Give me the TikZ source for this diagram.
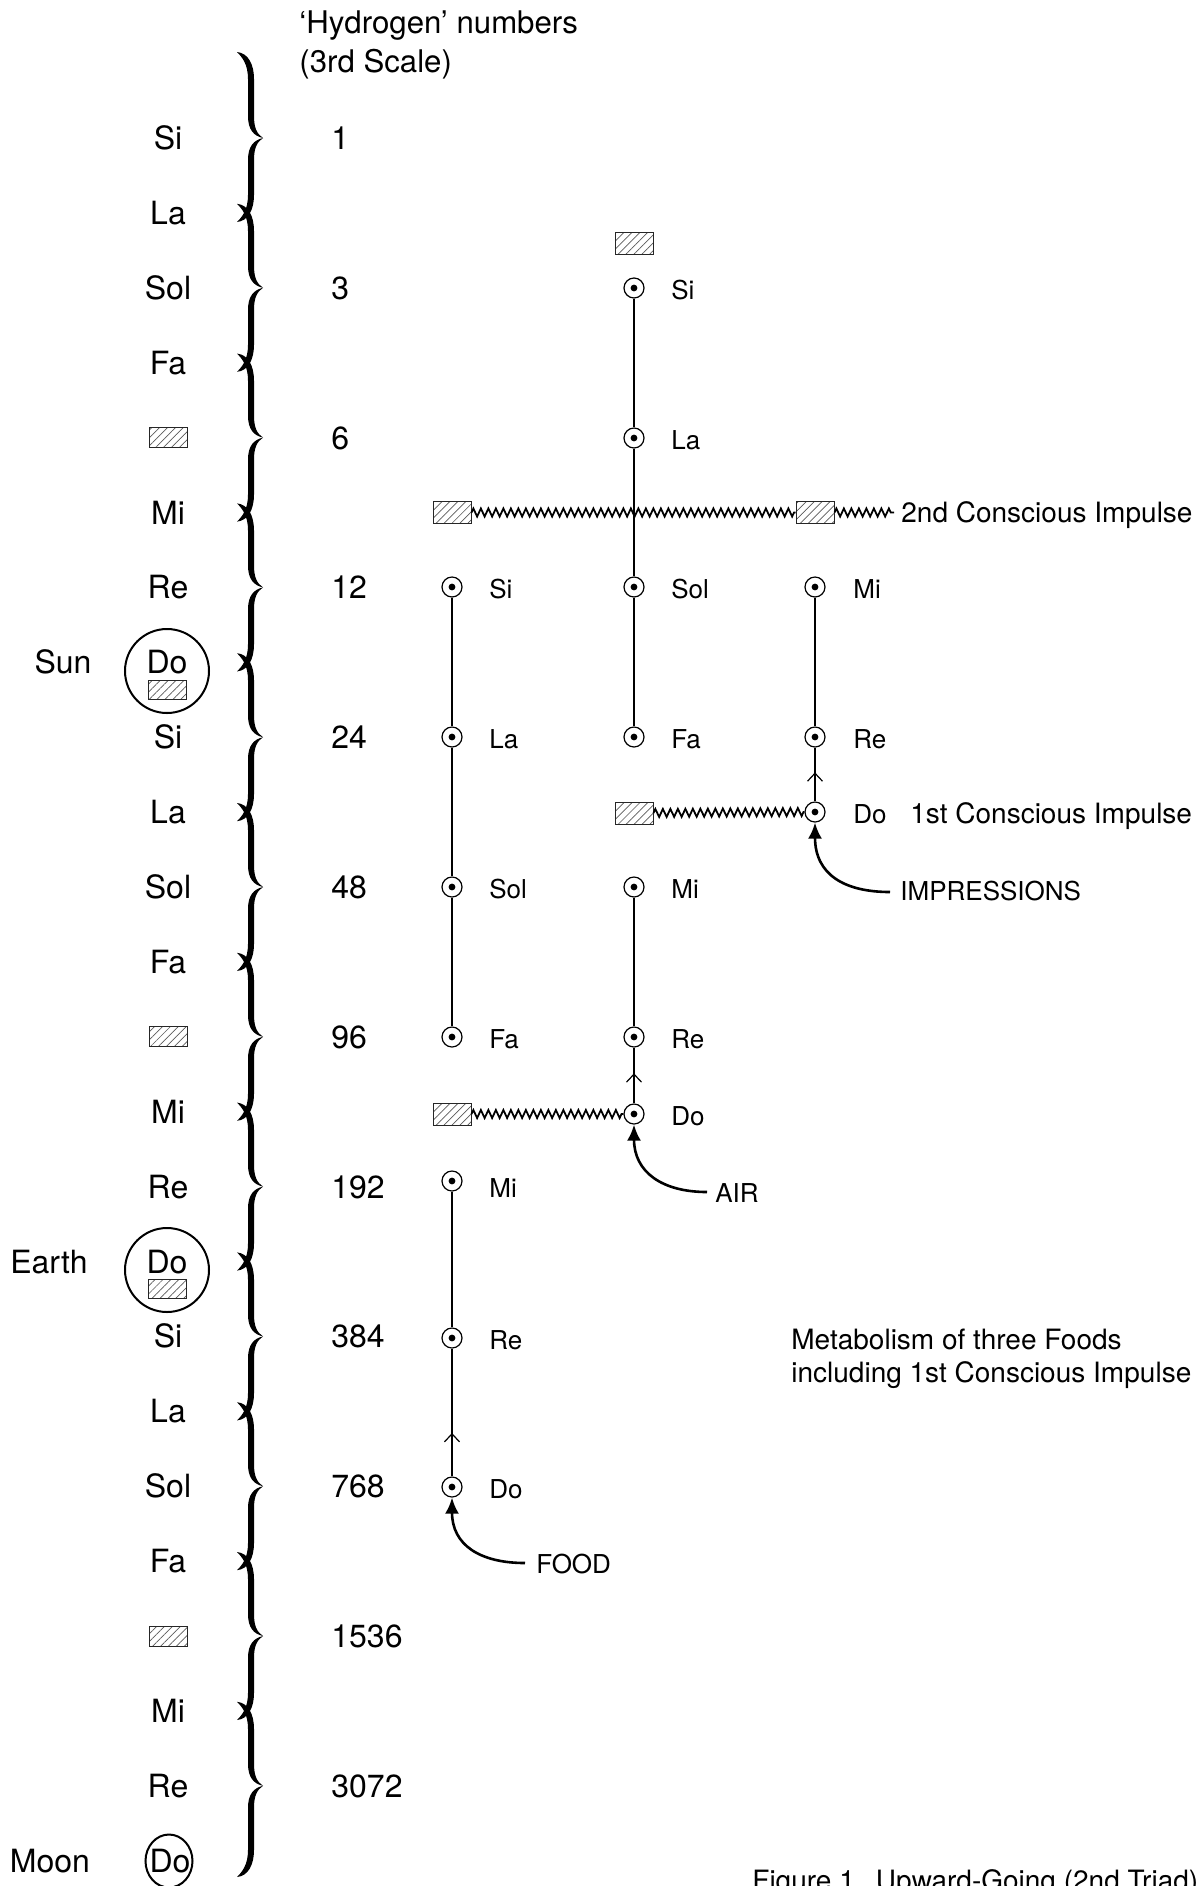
\documentclass[tikz,border=0pt]{standalone}
\usepackage{fontspec}
\setmainfont{TeX Gyre Heros}
\usetikzlibrary{patterns.meta,decorations.pathmorphing,decorations.markings,arrows.meta,shapes.geometric}

% one half of a curly brace: #1 end y, #2 tip y, #3 = +1 (tip below end) or -1
\newcommand\bhalf[3]{%
  \fill (237,#1) .. controls (242,{#1+5*(#3)}) and (248,{#1+12*(#3)}) .. (248,{#1+27*(#3)})
   -- (248,{#2-22*(#3)}) .. controls (248,{#2-8*(#3)}) and (254,{#2-2*(#3)}) .. (263,#2)
   .. controls (257,{#2-4*(#3)}) and (254,{#2-10*(#3)}) .. (254,{#2-22*(#3)})
   -- (254,{#1+27*(#3)}) .. controls (254,{#1+12*(#3)}) and (248,{#1+1*(#3)}) .. (237,#1) -- cycle;}

\begin{document}
\begin{tikzpicture}[x=0.5pt,y=-0.5pt,
  note/.style={font=\fontsize{16}{19}\selectfont, anchor=base, inner sep=0pt},
  num/.style={font=\fontsize{16}{19}\selectfont, anchor=base west, inner sep=0pt},
  headtxt/.style={font=\fontsize{15.6}{19}\selectfont, anchor=base west, inner sep=0pt},
  lbl/.style={font=\fontsize{13}{15}\selectfont, anchor=base west, inner sep=0pt},
  captxt/.style={font=\fontsize{14}{16.5}\selectfont, anchor=base west, inner sep=0pt},
  hatchbox/.style={draw=black!85, line width=0.5pt, pattern={Lines[angle=45,distance=2.8pt,line width=0.35pt]}, pattern color=black!65, minimum width=19pt, minimum height=11pt, inner sep=0pt},
  smallbox/.style={hatchbox, minimum height=9.5pt},
  odot/.style={circle, draw, line width=0.6pt, fill=white, minimum size=10pt, inner sep=0pt, path picture={\fill[black] (path picture bounding box.center) circle[radius=1.7pt];}},
  vline/.style={line width=1.1pt},
  wavy/.style={line width=0.9pt, decorate, decoration={zigzag, segment length=3.75pt, amplitude=2pt}},
  feed/.style={line width=1.3pt, -{Latex[length=8pt,width=7pt]}},
  chev/.style={postaction={decorate}, decoration={markings, mark=at position #1 with {\arrow{Straight Barb[length=4pt,width=7.5pt,line width=0.6pt]}}}},
  bigc/.style={circle, draw, line width=1pt, minimum size=42pt, inner sep=0pt},
]
\useasboundingbox (0,0) rectangle (1197,1886);

% ---- header ----
\node[headtxt] (head1) at (299,33) {`Hydrogen' numbers};
\node[headtxt] (head2) at (299,72) {(3rd Scale)};

% ---- brace ----
\foreach \k in {0,...,11}{
  \pgfmathsetmacro\tipy{138+149.8*\k}
  \pgfmathsetmacro\topy{\k==0 ? 52 : \tipy-84}
  \pgfmathsetmacro\boty{\k==11 ? 1877 : \tipy+84}
  \bhalf{\topy}{\tipy}{1}
  \bhalf{\boty}{\tipy}{-1}
}

% ---- left notes ----
\foreach \n/\i in {Si/0,La/1,Sol/2,Fa/3,Mi/5,Re/6,Si/8,La/9,Sol/10,Fa/11,Mi/13,Re/14,Si/16,La/17,Sol/18,Fa/19,Mi/21,Re/22}
  \node[note] (n\i) at (168,{138+74.9*\i+11.5}) {\n};
\foreach \i in {4,12,20}
  \node[hatchbox, minimum height=10pt] (n\i) at (168,{138+74.9*\i}) {};

% Sun
\node[bigc] (sunc) at (167,671) {};
\node[note] (n7) at (167,{662.3+11.5}) {Do};
\node[smallbox] (sunb) at (167,690) {};
\node[note] (sun) at (63,{662.3+11.5}) {Sun};
% Earth
\node[bigc] (earthc) at (167,1270) {};
\node[note] (n15) at (167,{1261.6+11.5}) {Do};
\node[smallbox] (earthb) at (167,1289) {};
\node[note] (earth) at (49,{1261.6+11.5}) {Earth};
% Moon
\node[ellipse, draw, line width=1pt, minimum width=23.5pt, minimum height=26.5pt, inner sep=0pt] (moonc) at (169,1861) {};
\node[note] (n23) at (170,{1860.7+11.5}) {Do};
\node[note] (moon) at (50,{1860.7+11.5}) {Moon};

% ---- hydrogen numbers ----
\foreach \v/\i in {1/0,3/2,6/4,12/6,24/8,48/10,96/12,192/14,384/16,768/18,1536/20,3072/22}
  \node[num] (h\i) at (331,{138+74.9*\i+11.5}) {\v};

% ---- hatched boxes on the right ----
\node[hatchbox] (tb) at (634,243) {};
\node[hatchbox] (wl) at (452,512.5) {};
\node[hatchbox] (wm) at (815,512.5) {};
\node[hatchbox] (ib) at (634,813) {};
\node[hatchbox] (ab) at (452,1114) {};
\coordinate (wend) at (894,512.5);

% ---- wavy lines ----
\draw[wavy] (wl.east) -- (wm.west);
\draw[wavy] (wm.east) -- (wend);

% ---- column A (food) ----
\node[odot] (aSi) at (452,587) {};
\node[odot] (aLa) at (452,737) {};
\node[odot] (aSol) at (452,887) {};
\node[odot] (aFa) at (452,1037) {};
\node[odot] (aMi) at (452,1181) {};
\node[odot] (aRe) at (452,1338) {};
\node[odot] (aDo) at (452,1487) {};
\foreach \n/\y in {Si/587,La/737,Sol/887,Fa/1037,Mi/1186,Re/1338,Do/1487}
  \node[lbl] (la\n) at (489,{\y+11}) {\n};

% ---- column B (air) ----
\node[odot] (bSi) at (634,288) {};
\node[odot] (bLa) at (634,438) {};
\node[odot] (bSol) at (634,587) {};
\node[odot] (bFa) at (634,737) {};
\node[odot] (bMi) at (634,887) {};
\node[odot] (bRe) at (634,1037) {};
\node[odot] (bDo) at (634,1114) {};
\foreach \n/\y in {Si/288,La/438,Sol/587,Fa/737,Mi/887,Re/1037,Do/1114}
  \node[lbl] (lb\n) at (671,{\y+11}) {\n};

% ---- column C (impressions) ----
\node[odot] (cMi) at (815,587) {};
\node[odot] (cRe) at (815,737) {};
\node[odot] (cDo) at (815,812) {};
\foreach \n/\y in {Mi/587,Re/737,Do/812}
  \node[lbl] (lc\n) at (853,{\y+11}) {\n};

% wavy feeds into Do notes
\draw[wavy] (ib.east) -- (cDo.west);
\draw[wavy] (ab.east) -- (bDo.west);

% ---- vertical lines ----
\draw[vline] (aSi) -- (aLa) -- (aSol) -- (aFa);
\draw[vline] (aMi) -- (aRe);
\draw[vline, chev=0.34] (aDo) -- (aRe);
\draw[vline] (bSi) -- (bLa) -- (bSol) -- (bFa);
\draw[vline] (bMi) -- (bRe);
\draw[vline, chev=0.54] (bDo) -- (bRe);
\draw[vline] (cMi) -- (cRe);
\draw[vline, chev=0.54] (cDo) -- (cRe);

% ---- labels ----
\node[captxt] (imp2) at (901,522.5) {2nd Conscious Impulse};
\node[captxt] (imp1) at (910,823) {1st Conscious Impulse};
\node[lbl] (impr) at (900,900) {IMPRESSIONS};
\node[lbl] (air) at (715,1202) {AIR};
\node[lbl] (food) at (536,1573) {FOOD};
\coordinate (imprc) at (890,892);
\coordinate (airc) at (707,1192);
\coordinate (foodc) at (525,1563);
\draw[feed] (imprc) .. controls (845,892) and (815,875) .. (cDo.south);
\draw[feed] (airc) .. controls (662,1192) and (634,1172) .. (bDo.south);
\draw[feed] (foodc) .. controls (480,1563) and (452,1545) .. (aDo.south);

\node[captxt] (met1) at (791,1349) {Metabolism of three Foods};
\node[captxt] (met2) at (791,1382) {including 1st Conscious Impulse};
\node[captxt] (fig) at (752,1890) {Figure 1\hspace{0.75em}Upward-Going (2nd Triad)};
\end{tikzpicture}
\end{document}
